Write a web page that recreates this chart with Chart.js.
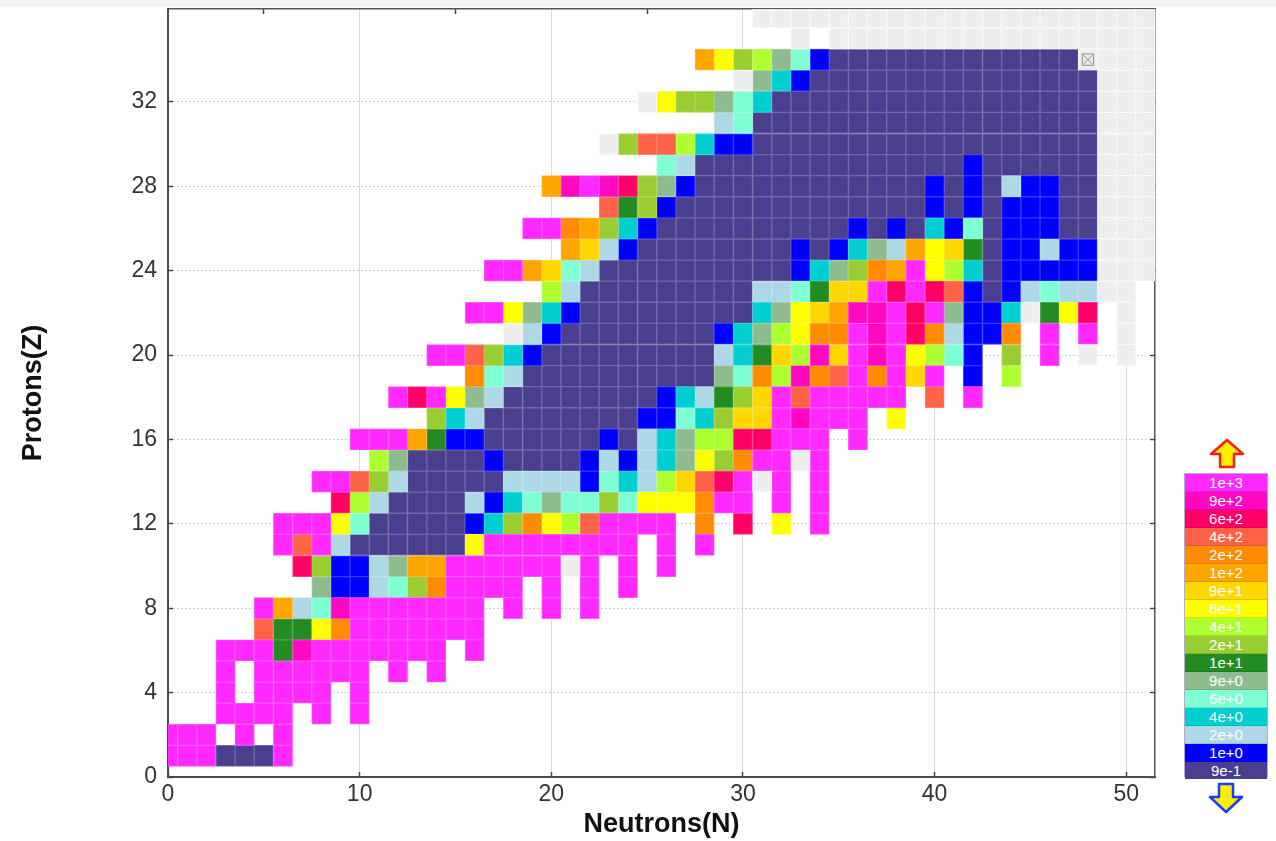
<!DOCTYPE html>
<html>
<head>
<meta charset="utf-8">
<title>Nuclide chart</title>
<script src="https://cdn.jsdelivr.net/npm/chart.js@4.4.1/dist/chart.umd.min.js"></script>
<style>
    html, body { margin: 0; padding: 0; background: #fff; }
    body { width: 1276px; height: 841px; position: relative; overflow: hidden; font-family: "Liberation Sans", Arial, sans-serif; }
    #topband { position: absolute; left: 0; top: 0; width: 1276px; height: 7px; background: #f3f3f3; }
    #wrap { position: absolute; left: 0; top: 0; width: 1276px; height: 841px; }
    #scaleBox { position: absolute; left: 1184px; top: 473px; width: 84px; height: 304px; border: 1px solid #b7aac9; box-sizing: border-box; display: flex; flex-direction: column; }
    #scaleBox div { flex: 1; color: #fff; font-size: 15px; text-align: center; display: flex; align-items: center; justify-content: center; border-bottom: 1px solid rgba(0,0,0,0.12); box-sizing: border-box; }
    #scaleBox div:last-child { border-bottom: none; }
    .arrow { position: absolute; }
</style>
</head>
<body>
<div id="topband"></div>
<div id="wrap"><canvas id="chart" width="1276" height="841"></canvas></div>
<svg class="arrow" style="left:1209px; top:438px" width="36" height="31" viewBox="0 0 36 31">
    <polygon points="18,2 34,16 25,16 25,29 11,29 11,16 2,16" fill="#ffee00" stroke="#ff1a1a" stroke-width="2.5" stroke-linejoin="round"/>
</svg>
<div id="scaleBox"></div>
<svg class="arrow" style="left:1208px; top:782px" width="36" height="32" viewBox="0 0 36 32">
    <polygon points="11,2 25,2 25,15 34,15 18,30 2,15 11,15" fill="#ffee00" stroke="#1a3cff" stroke-width="2.5" stroke-linejoin="round"/>
</svg>
<script>
// colour scale (top of the legend first)
const legendLabels = ['1e+3', '9e+2', '6e+2', '4e+2', '2e+2', '1e+2', '9e+1', '6e+1', '4e+1',
    '2e+1', '1e+1', '9e+0', '6e+0', '4e+0', '2e+0', '1e+0', '9e-1'];
const legendColors = ['#FF28FF', '#FF08C0', '#FF0066', '#FF6347', '#FF8C00', '#FFA500', '#FFD700', '#FFFF00', '#ADFF2F',
    '#9ACD32', '#228B22', '#8FBC8F', '#7FFFD4', '#00CED1', '#ADD8E6', '#0000FF', '#4A3F8E'];
const codeLetters = 'abcdefghijklmnopq';   // one letter per legend entry
const noDataCode = 'x';
const noDataColor = '#EEEEEE';

// one row per Z (Z = 1 .. 36): first N of the row, then one code per N ('.' = empty)
const rowStart = [0, 0, 3, 3, 3, 3, 5, 5, 8, 7, 6, 6, 9, 8, 11, 10, 14, 12,
    16, 14, 18, 16, 20, 17, 21, 19, 23, 20, 26, 23, 29, 25, 30, 28, 33, 31];
const rowCodes = [
    'aaaqqqa',
    'aaa.a.a',
    'aaaa.a.a',
    'a.aaaa.a',
    'a.aaaaaa.a.a',
    'aaakbaaaaaaa.a',
    'dkkheaaaaaaa',
    'afombaaaaaaa.a.a.a',
    'lppomjeaaaa.a.a.a',
    'cjppolffaaaaaaxa.a.a',
    'adaoqqqqqqhaaaaaaaa.a.a',
    'aaahmqqqqqpnjehidaaaa.e.c.h.a',
    'cioqqqqopnmlmmjmhhheaa.a.a',
    'aadjoqqqqqoooopmnoigdcaxa.a',
    'ilqqqqpqqqqpoponlhjeaaxa',
    'aaafkppqqqqqqpqonliiccaaa.a',
    'jnoqqqqqqqqppmnjggabaaa.h',
    'acahloqqqqqqqqpnokjgadaaaaa.d.a',
    'emoqqqqqqqqqqlmeibedaeaga.p.i',
    'aadjnpqqqqqqqqqonkgibgabahimp.j.a.x.x',
    'xopqqqqqqqqpnliheeabaceoppe.a.a.x',
    'aahlnpqqqqqqqqqnlhgfbbacalppnxkhc.x',
    'ioqqqqqqqqqoomkggacacdpqpomooxx',
    'aafgmoqqqqqqqqqqpnljefahinqpppppxxx',
    'fgopqqqqqqqqpqpnlofhgkqppoppxxx',
    'aaefjnpqqqqqqqqqqpqpqnpmqpppqqxxx',
    'dkjpqqqqqqqqqqqqqpqpqpppqqxxx',
    'fbabcjlpqqqqqqqqqqqqpqpqoppqqxxx',
    'moqqqqqqqqqqqqqqpqqqqqqxxx',
    'xjddinppqqqqqqqqqqqqqqqqqqxxx',
    'omqqqqqqqqqqqqqqqqqqxxx',
    'xhjjlmnqqqqqqqqqqqqqqqqqxxx',
    'xlnpqqqqqqqqqqqqqqqxxx',
    'fhjilmpqqqqqqqqqqqqqxxxx',
    'x.xxxxxxxxxxxxxxxxx',
    'xxxxxxxxxxxxxxxxxxxxx'
];

// cell marked with a crossed box
const flaggedCells = [{ x: 48, y: 34 }];

const xTicks = [0, 10, 20, 30, 40, 50];
const yTicks = [0, 4, 8, 12, 16, 20, 24, 28, 32];
const xMax = 51.5;
const yMax = 36.4;

const FONT = '"Liberation Sans", Arial, sans-serif';

function mixWhite(hex, t) {
    const n = parseInt(hex.slice(1), 16);
    const mix = v => Math.round(v + (255 - v) * t);
    return `rgb(${mix((n >> 16) & 255)},${mix((n >> 8) & 255)},${mix(n & 255)})`;
}

// group the cells by colour code, each cell is a floating bar from Z-0.5 to Z+0.5
const cellsByCode = {};
rowCodes.forEach((codes, r) => {
    const z = r + 1;
    [...codes].forEach((c, k) => {
        if (c === '.') return;
        if (!cellsByCode[c]) cellsByCode[c] = [];
        cellsByCode[c].push({ x: rowStart[r] + k, y: [z - 0.5, z + 0.5] });
    });
});

function cellDataset(label, code, color, border) {
    return {
        type: 'bar',
        label: label,
        data: cellsByCode[code] || [],
        backgroundColor: color,
        borderColor: border,
        borderWidth: 1,
        borderSkipped: false,
        grouped: false,
        barPercentage: 1,
        categoryPercentage: 1,
        clip: 0,
        order: 1
    };
}

const datasets = [cellDataset('no data', noDataCode, noDataColor, '#f8f8f8')];
codeLetters.split('').forEach((c, i) => {
    datasets.push(cellDataset(legendLabels[i], c, legendColors[i], mixWhite(legendColors[i], 0.22)));
});
// the crossed box goes on top of the cells
datasets.push({
    type: 'scatter', label: 'flag-box', data: flaggedCells, order: 0,
    pointStyle: 'rect', pointRadius: 8, borderColor: '#8c8c8c', backgroundColor: 'rgba(0,0,0,0)', borderWidth: 1
});
datasets.push({
    type: 'scatter', label: 'flag-cross', data: flaggedCells, order: 0,
    pointStyle: 'crossRot', pointRadius: 6, borderColor: '#8c8c8c', borderWidth: 1
});

const tickFont = { family: FONT, size: 23 };
const titleFont = { family: FONT, size: 27, weight: 'bold' };

// fix an axis box to a given size and drop the label overhang padding
function fixBox(prop, size) {
    return s => {
        s[prop] = size;
        s.paddingTop = 0;
        s.paddingBottom = 0;
        s.paddingLeft = 0;
        s.paddingRight = 0;
    };
}

new Chart(document.getElementById('chart').getContext('2d'), {
    type: 'bar',
    data: { datasets: datasets },
    options: {
        responsive: false,
        animation: false,
        events: [],
        layout: { padding: 0 },
        plugins: {
            legend: { display: false },
            tooltip: { enabled: false }
        },
        scales: {
            x: {
                type: 'linear', position: 'bottom', min: 0, max: xMax, offset: false,
                afterBuildTicks: s => { s.ticks = xTicks.map(v => ({ value: v })); },
                afterFit: fixBox('height', 64),
                grid: { color: '#dadada', lineWidth: 1, offset: false, tickLength: -5, tickColor: '#444', tickWidth: 1.5 },
                border: { color: '#4a4a4a', width: 2 },
                ticks: { font: tickFont, color: '#333', padding: 9, maxRotation: 0, autoSkip: false },
                title: { display: true, text: 'Neutrons(N)', font: titleFont, color: '#111', padding: { top: 0, bottom: 0 } }
            },
            y: {
                type: 'linear', position: 'left', min: 0, max: yMax,
                afterBuildTicks: s => { s.ticks = yTicks.map(v => ({ value: v })); },
                afterFit: fixBox('width', 168),
                grid: { color: '#cfcfcf', lineWidth: 1, tickLength: -5, tickColor: '#444', tickWidth: 1.5 },
                border: { color: '#4a4a4a', width: 2, dash: [2, 2] },
                ticks: { font: tickFont, color: '#333', padding: 16, autoSkip: false },
                title: { display: true, text: 'Protons(Z)', font: titleFont, color: '#111', padding: { top: 17, bottom: 0 } }
            },
            x2: {
                type: 'linear', position: 'top', min: 0, max: xMax, offset: false, z: 1,
                afterBuildTicks: s => { s.ticks = xTicks.map(v => ({ value: v })); },
                afterFit: fixBox('height', 8),
                grid: { drawOnChartArea: false, tickLength: -5, tickColor: '#444', tickWidth: 1.5 },
                border: { color: '#555', width: 1.5 },
                ticks: { display: false }
            },
            y2: {
                type: 'linear', position: 'right', min: 0, max: yMax, z: 1,
                afterBuildTicks: s => { s.ticks = yTicks.map(v => ({ value: v })); },
                afterFit: fixBox('width', 121),
                grid: { drawOnChartArea: false, tickLength: -5, tickColor: '#444', tickWidth: 1.5 },
                border: { color: '#555', width: 1.5 },
                ticks: { display: false }
            }
        }
    }
});

// colour scale on the right
const scaleBox = document.getElementById('scaleBox');
legendLabels.forEach((label, i) => {
    const row = document.createElement('div');
    row.style.background = legendColors[i];
    row.textContent = label;
    scaleBox.appendChild(row);
});
</script>
</body>
</html>
